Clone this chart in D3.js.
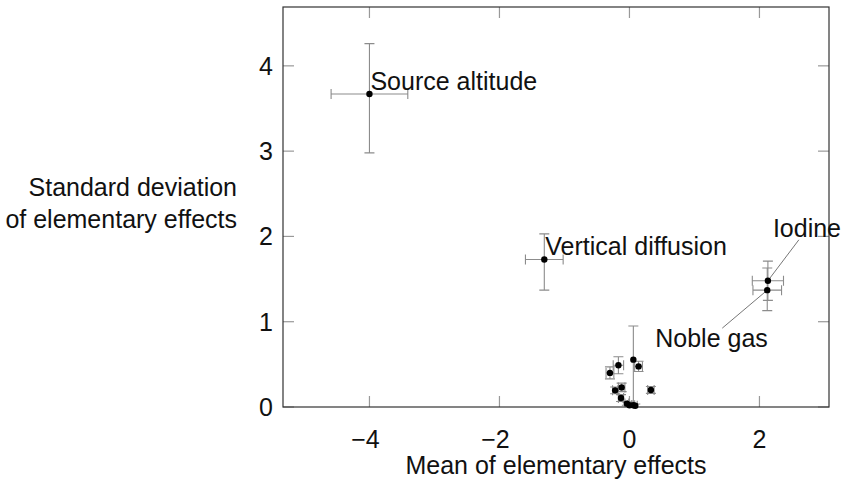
<!DOCTYPE html>
<html>
<head>
<meta charset="utf-8">
<script src="https://cdn.jsdelivr.net/npm/d3@7"></script>
<style>
	body { margin: 0; background: #fff; }
	svg { display: block; font-family: "Liberation Sans", Arial, sans-serif; }
	text { fill: #111; }
</style>
</head>
<body>
<svg id="chart" width="841" height="489"></svg>
<script>
// Elementary effects (mean, standard deviation) with their uncertainty
const names = ['Source altitude', 'Vertical diffusion', 'Iodine', 'Noble gas',
	'', '', '', '', '', '', '', '', '', '', '', ''];
const meanEE = [-4.0, -1.31, 2.13, 2.12, 0.06, 0.14, -0.17, -0.30, -0.22, -0.12, -0.13, 0.33, -0.04, 0.0, 0.06, 0.09];
const sdEE = [3.67, 1.73, 1.48, 1.37, 0.555, 0.476, 0.49, 0.40, 0.195, 0.23, 0.105, 0.20, 0.04, 0.02, 0.02, 0.015];
const meanErr = [0.59, 0.29, 0.24, 0.22, 0.0, 0.06, 0.08, 0.06, 0.04, 0.05, 0.04, 0.05, 0.03, 0.03, 0.02, 0.03];
const sdErrPlus = [0.59, 0.30, 0.23, 0.26, 0.0, 0.06, 0.1, 0.07, 0.04, 0.05, 0.04, 0.04, 0.02, 0.02, 0.93, 0.02];
const sdErrMinus = [0.69, 0.36, 0.23, 0.24, 0.0, 0.06, 0.1, 0.07, 0.04, 0.05, 0.04, 0.04, 0.02, 0.02, 0.93, 0.02];

const xTicks = [-4, -2, 0, 2];
const yTicks = [0, 1, 2, 3, 4];
const xLabel = 'Mean of elementary effects';
const yLabel = ['Standard deviation', 'of elementary effects'];

const margin = { left: 283, right: 12, top: 7, bottom: 82 };
const W = 841;
const H = 489;
const fontSize = 25;
const cap = 5;
const tickLen = 11;

const svg = d3.select('#chart');
const x = d3.scaleLinear().domain([-5.33, 3.07]).range([margin.left, W - margin.right]);
const y = d3.scaleLinear().domain([0, 4.69]).range([H - margin.bottom, margin.top]);

const points = names.map((name, i) => ({
	name, mx: meanEE[i], sd: sdEE[i], ex: meanErr[i], eyp: sdErrPlus[i], eym: sdErrMinus[i],
}));

svg.append('clipPath').attr('id', 'plotClip')
	.append('rect')
	.attr('x', x.range()[0]).attr('y', y.range()[1])
	.attr('width', x.range()[1] - x.range()[0])
	.attr('height', y.range()[0] - y.range()[1]);

// Ticks on all four sides, pointing in
const tickColor = '#999';
const gTicks = svg.append('g').attr('stroke', tickColor).attr('stroke-width', 1.2);
xTicks.forEach((t) => {
	gTicks.append('line').attr('x1', x(t)).attr('x2', x(t))
		.attr('y1', y.range()[0]).attr('y2', y.range()[0] - tickLen);
	gTicks.append('line').attr('x1', x(t)).attr('x2', x(t))
		.attr('y1', y.range()[1]).attr('y2', y.range()[1] + tickLen);
});
yTicks.forEach((t) => {
	gTicks.append('line').attr('y1', y(t)).attr('y2', y(t))
		.attr('x1', x.range()[0]).attr('x2', x.range()[0] + tickLen);
	gTicks.append('line').attr('y1', y(t)).attr('y2', y(t))
		.attr('x1', x.range()[1]).attr('x2', x.range()[1] - tickLen);
});

// Error bars
const errColor = '#8c8c8c';
const gErr = svg.append('g').attr('clip-path', 'url(#plotClip)')
	.attr('stroke', errColor).attr('stroke-width', 1.1).attr('fill', 'none');
points.forEach((p) => {
	const cx = x(p.mx);
	const cy = y(p.sd);
	if (p.eyp > 0 || p.eym > 0) {
		const y0 = y(p.sd - p.eym);
		const y1 = y(p.sd + p.eyp);
		gErr.append('path').attr('d',
			`M${cx},${y0}V${y1}M${cx - cap},${y0}H${cx + cap}M${cx - cap},${y1}H${cx + cap}`);
	}
	if (p.ex > 0) {
		const x0 = x(p.mx - p.ex);
		const x1 = x(p.mx + p.ex);
		gErr.append('path').attr('d',
			`M${x0},${cy}H${x1}M${x0},${cy - cap}V${cy + cap}M${x1},${cy - cap}V${cy + cap}`);
	}
});

// Frame
svg.append('rect')
	.attr('x', x.range()[0]).attr('y', y.range()[1])
	.attr('width', x.range()[1] - x.range()[0])
	.attr('height', y.range()[0] - y.range()[1])
	.attr('fill', 'none').attr('stroke', '#333').attr('stroke-width', 1.2);

// Pins for the two close points: line end (dx, dy), then text offset from it
const pins = {
	Iodine: { dx: 31, dy: -41, tx: -26, ty: -3 },
	'Noble gas': { dx: -45, dy: 38, tx: -67, ty: 19 },
};
const gPins = svg.append('g').attr('stroke', '#777').attr('stroke-width', 1);
points.filter(p => pins[p.name]).forEach((p) => {
	const pin = pins[p.name];
	gPins.append('line')
		.attr('x1', x(p.mx)).attr('y1', y(p.sd))
		.attr('x2', x(p.mx) + pin.dx).attr('y2', y(p.sd) + pin.dy);
});

// Dots
svg.append('g').selectAll('circle').data(points).enter().append('circle')
	.attr('cx', d => x(d.mx)).attr('cy', d => y(d.sd)).attr('r', 3.2)
	.attr('fill', '#000');

// Point labels
svg.append('g').selectAll('text').data(points.filter(p => p.name)).enter().append('text')
	.attr('font-size', fontSize)
	.attr('x', d => x(d.mx) + (pins[d.name] ? pins[d.name].dx + pins[d.name].tx : 1))
	.attr('y', d => y(d.sd) + (pins[d.name] ? pins[d.name].dy + pins[d.name].ty : -4))
	.text(d => d.name);

// Tick labels
const fmt = t => (t < 0 ? `\u2212${-t}` : `${t}`);
svg.append('g').selectAll('text').data(xTicks).enter().append('text')
	.attr('font-size', fontSize).attr('text-anchor', 'middle')
	.attr('x', d => x(d) - (d < 0 ? 4 : 0)).attr('y', y.range()[0] + 41)
	.text(fmt);
svg.append('g').selectAll('text').data(yTicks).enter().append('text')
	.attr('font-size', fontSize).attr('text-anchor', 'end')
	.attr('x', x.range()[0] - 10).attr('y', d => y(d) + 9)
	.text(fmt);

// Axis labels
svg.append('text').attr('font-size', fontSize).attr('text-anchor', 'middle')
	.attr('x', (x.range()[0] + x.range()[1]) / 2).attr('y', 474)
	.text(xLabel);
svg.append('text').attr('font-size', fontSize).attr('text-anchor', 'end')
	.selectAll('tspan').data(yLabel).enter().append('tspan')
	.attr('x', 237).attr('y', (d, i) => 196 + i * 32)
	.text(d => d);
</script>
</body>
</html>
